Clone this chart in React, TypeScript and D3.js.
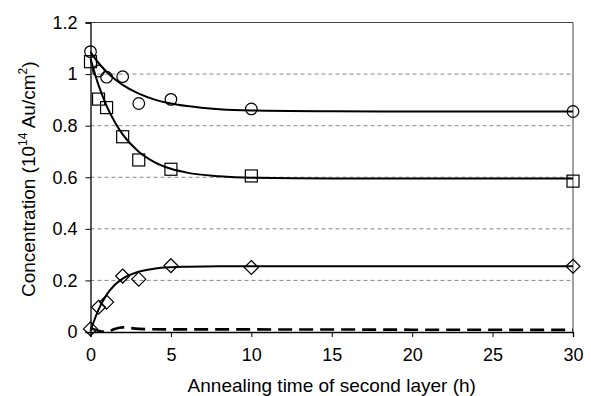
import { useEffect, useRef } from 'react';
import * as d3 from 'd3';

// measured points (annealing time in h, concentration in 1e14 Au/cm2)
const times = [0, 0.5, 1, 2, 3, 5, 10, 30];
const circleValues = [1.087, 1.012, 0.988, 0.99, 0.886, 0.902, 0.865, 0.855];
const squareValues = [1.048, 0.903, 0.87, 0.757, 0.667, 0.631, 0.605, 0.585];
const diamondValues = [0.012, 0.096, 0.116, 0.217, 0.205, 0.257, 0.25, 0.255];

// fitted curves
const curveTimes = [0, 0.5, 1, 1.5, 2, 3, 4, 5, 6, 8, 10, 15, 20, 30];
const circleCurve = [1.085, 1.043, 1.009, 0.981, 0.958, 0.924, 0.901, 0.886, 0.876, 0.864, 0.859, 0.856, 0.855, 0.855];
const squareCurve = [1.06, 0.957, 0.877, 0.815, 0.766, 0.699, 0.658, 0.633, 0.618, 0.604, 0.598, 0.595, 0.595, 0.595];
const diamondCurve = [0.005, 0.087, 0.144, 0.182, 0.207, 0.234, 0.246, 0.251, 0.253, 0.255, 0.255, 0.255, 0.255, 0.255];
const dashedTimes = [0, 0.5, 1, 1.5, 2, 3, 5, 10, 20, 30];
const dashedCurve = [0.015, 0.005, 0.0, 0.012, 0.018, 0.012, 0.01, 0.01, 0.009, 0.008];

const xTicks = [0, 5, 10, 15, 20, 25, 30];
const yTicks = [0, 0.2, 0.4, 0.6, 0.8, 1, 1.2];
const gridTicks = [0.2, 0.4, 0.6, 0.8, 1];

export default function App() {
  const svgRef = useRef<SVGSVGElement>(null);

  useEffect(() => {
    if (!svgRef.current) return;
    const width = 591;
    const height = 396;
    const svg = d3.select(svgRef.current);
    svg.selectAll('*').remove();

    const margin = { top: 22.5, right: 18, bottom: 64, left: 90.5 };
    const x = d3.scaleLinear().domain([0, 30]).range([margin.left, width - margin.right]);
    const y = d3.scaleLinear().domain([0, 1.2]).range([height - margin.bottom, margin.top]);
    const font = 'Liberation Sans, Arial, sans-serif';

    svg.append('rect').attr('width', width).attr('height', height).attr('fill', '#fff');

    // gridlines
    svg.append('g')
      .selectAll('line')
      .data(gridTicks)
      .enter()
      .append('line')
      .attr('x1', x(0))
      .attr('x2', x(30))
      .attr('y1', (d) => y(d))
      .attr('y2', (d) => y(d))
      .attr('stroke', '#888')
      .attr('stroke-width', 1)
      .attr('stroke-dasharray', '4,3');

    // frame top / right
    svg.append('path')
      .attr('d', `M${x(0)},${y(1.2)}H${x(30)}V${y(0)}`)
      .attr('fill', 'none')
      .attr('stroke', '#444')
      .attr('stroke-width', 1);

    // axes
    const xAxis = svg.append('g')
      .attr('transform', `translate(0,${y(0)})`)
      .call(d3.axisBottom(x).tickValues(xTicks).tickSize(5).tickPadding(11).tickFormat(d3.format('d')));
    const yAxis = svg.append('g')
      .attr('transform', `translate(${x(0)},0)`)
      .call(d3.axisLeft(y).tickValues(yTicks).tickSize(5).tickPadding(8).tickFormat((d) => String(+d)));
    [xAxis, yAxis].forEach((a) => {
      a.select('.domain').attr('stroke', '#000').attr('stroke-width', 1.3);
      a.selectAll('.tick line').attr('stroke', '#000');
      a.selectAll('text').attr('fill', '#000').attr('font-size', '18px').attr('font-family', font);
    });

    // fitted curves
    const line = d3.line<[number, number]>()
      .x((d) => x(d[0]))
      .y((d) => y(d[1]))
      .curve(d3.curveMonotoneX);
    [circleCurve, squareCurve, diamondCurve].forEach((vals) => {
      svg.append('path')
        .datum(curveTimes.map((t, i) => [t, vals[i]] as [number, number]))
        .attr('d', line)
        .attr('fill', 'none')
        .attr('stroke', '#000')
        .attr('stroke-width', 2);
    });
    svg.append('path')
      .datum(dashedTimes.map((t, i) => [t, dashedCurve[i]] as [number, number]))
      .attr('d', line)
      .attr('fill', 'none')
      .attr('stroke', '#000')
      .attr('stroke-width', 2.6)
      .attr('stroke-dasharray', '14,7');

    // markers
    const pts = (vals: number[]) => times.map((t, i) => ({ t, v: vals[i] }));
    svg.append('g')
      .selectAll('circle')
      .data(pts(circleValues))
      .enter()
      .append('circle')
      .attr('cx', (d) => x(d.t))
      .attr('cy', (d) => y(d.v))
      .attr('r', 5.8)
      .attr('fill', 'none')
      .attr('stroke', '#000')
      .attr('stroke-width', 1.2);
    svg.append('g')
      .selectAll('rect')
      .data(pts(squareValues))
      .enter()
      .append('rect')
      .attr('x', (d) => x(d.t) - 6)
      .attr('y', (d) => y(d.v) - 6)
      .attr('width', 12)
      .attr('height', 12)
      .attr('fill', 'none')
      .attr('stroke', '#000')
      .attr('stroke-width', 1.2);
    svg.append('g')
      .selectAll('path')
      .data(pts(diamondValues))
      .enter()
      .append('path')
      .attr('d', (d) => {
        const cx = x(d.t);
        const cy = y(d.v);
        return `M${cx},${cy - 7}L${cx + 7},${cy}L${cx},${cy + 7}L${cx - 7},${cy}Z`;
      })
      .attr('fill', 'none')
      .attr('stroke', '#000')
      .attr('stroke-width', 1.2);

    // axis titles
    svg.append('text')
      .attr('x', (x(0) + x(30)) / 2)
      .attr('y', 392)
      .attr('text-anchor', 'middle')
      .attr('font-size', '19px')
      .attr('font-family', font)
      .text('Annealing time of second layer (h)');

    const yt = svg.append('text')
      .attr('transform', `translate(35,${(y(0) + y(1.2)) / 2 + 2}) rotate(-90)`)
      .attr('text-anchor', 'middle')
      .attr('font-size', '19px')
      .attr('font-family', font);
    yt.append('tspan').text('Concentration (10');
    yt.append('tspan').attr('font-size', '12px').attr('dy', -8).text('14');
    yt.append('tspan').attr('dy', 8).text(' Au/cm');
    yt.append('tspan').attr('font-size', '12px').attr('dy', -8).text('2');
    yt.append('tspan').attr('dy', 8).text(')');
  }, []);

  return (
    <svg
      ref={svgRef}
      width={591}
      height={396}
      style={{ position: 'absolute', left: 0, top: 0, display: 'block' }}
    />
  );
}
